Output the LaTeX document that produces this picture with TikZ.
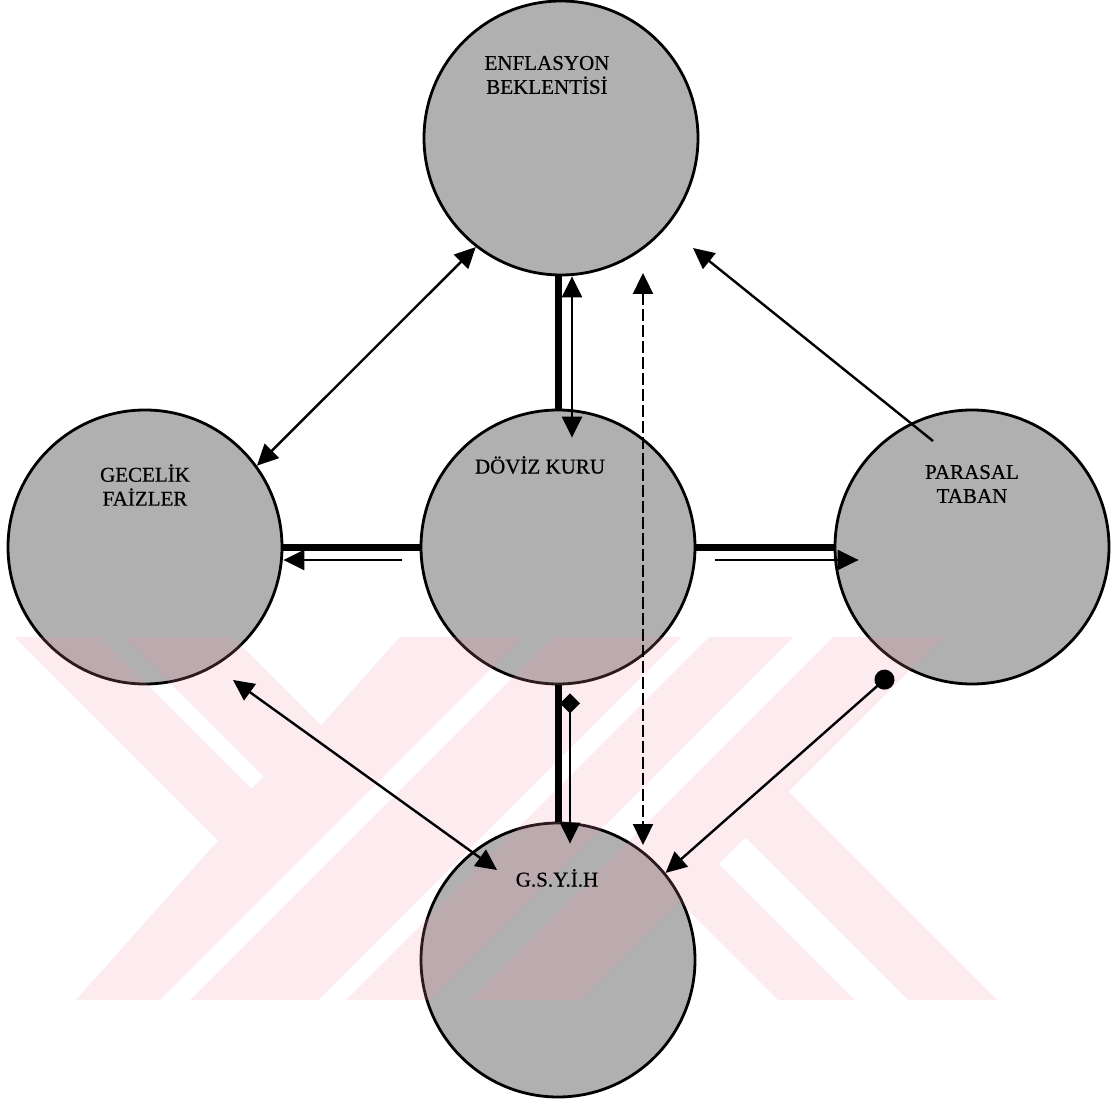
\documentclass[tikz,border=0pt]{standalone}
\usepackage{fontspec}
\setmainfont{Liberation Serif}
\newfontfamily\lblfont[FakeBold=0.6]{Liberation Serif}
\usetikzlibrary{arrows.meta,calc}
\definecolor{circgray}{RGB}{176,176,176}
\definecolor{wmpink}{RGB}{240,150,170}
\begin{document}
\begin{tikzpicture}[x=1pt,y=-1pt,
  bubble/.style={circle,draw=black,line width=2.8pt,fill=circgray,minimum size=274pt,inner sep=0pt},
  lbl/.style={font=\lblfont\fontsize{21}{24}\selectfont,align=center,inner sep=0pt},
  thinarrow/.style={line width=2.4pt,-{Triangle[length=21pt,width=20pt]}},
  twoway/.style={line width=2.4pt,{Triangle[length=21pt,width=20pt]}-{Triangle[length=21pt,width=20pt]}},
  dashtwoway/.style={twoway,dash pattern=on 12pt off 4pt},
  diamondarrow/.style={line width=2.4pt,{Diamond[length=20pt,width=20pt]}-{Triangle[length=21pt,width=20pt]}},
  dotarrow/.style={line width=2.4pt,{Circle[length=20pt]}-{Triangle[length=21pt,width=20pt]}},
  heavy/.style={line width=7pt},
  watermark/.style={fill=wmpink,fill opacity=0.18,even odd rule}
]
\useasboundingbox (0,0) rectangle (1117,1099);
\fill[white] (0,0) rectangle (1117,1099);

% circles
\node[bubble] (EB) at (561,138) {};
\node[bubble] (GF) at (145,547) {};
\node[bubble] (DK) at (558,547) {};
\node[bubble] (PT) at (972,547) {};
\node[bubble] (GS) at (558,960) {};

% watermark
\begin{scope}
\clip (0,637) rectangle (1117,999);
\path[watermark]
  (-22,600) -- (196,600) -- (321.2,725.2) -- (218.3,840.3) -- cycle
  (63,600) -- (87,600) -- (263.5,776.5) -- (251.5,788.5) -- cycle
  (433,600) -- (980,600) -- (540,1040) -- (40,1040) -- cycle
  (560,600) -- (590,600) -- (150,1040) -- (120,1040) -- cycle
  (718,600) -- (746,600) -- (306,1040) -- (278,1040) -- cycle
  (830,600) -- (870,600) -- (430,1040) -- (390,1040) -- cycle
  (679,901) -- (788.5,791.5) -- (1037,1040) -- (818,1040) -- cycle
  (719,864) -- (745.5,837.5) -- (948,1040) -- (895,1040) -- cycle;
\end{scope}

% labels
\node[lbl] (tEB) at (547,75) {ENFLASYON\\BEKLENTİSİ};
\node[lbl] (tGF) at (145,485) {GECELİK\\FAİZLER};
\node[lbl] (tDK) at (540,465) {DÖVİZ KURU};
\node[lbl] (tPT) at (972,484) {PARASAL\\TABAN};
\node[lbl] (tGS) at (557,878) {G.S.Y.İ.H};

% connectors
\draw[twoway] (GF.36) -- (EB.232);
\draw[thinarrow] ($(PT.center)+(-39,-106)$) -- ($(EB.center)+(132,110)$);

\draw[heavy] (DK.north) -- (DK.north |- EB.south);
\draw[twoway] ($(DK.north)+(14,29)$) -- ($(EB.south)+(11,0)$);

\draw[dashtwoway] ($(EB.center)+(82,135)$) -- ($(GS.center)+(85,-115)$);

\draw[heavy] (DK.west) -- (GF.east);
\draw[thinarrow] ($(DK.west)+(-18,13)$) -- ($(GF.east)+(0,13)$);

\draw[heavy] (DK.east) -- (PT.west);
\draw[thinarrow] ($(DK.east)+(19,13)$) -- ($(PT.west)+(25,13)$);

\draw[heavy] (DK.south) -- (DK.south |- GS.north);
\draw[diamondarrow] ($(DK.south)+(12,8)$) -- ($(GS.north)+(12,22)$);

\draw[twoway] ($(GF.center)+(88,133)$) -- ($(GS.center)+(-61,-90)$);
\draw[dotarrow] ($(PT.center)+(-80,126)$) -- (GS.39.5);
\end{tikzpicture}
\end{document}
